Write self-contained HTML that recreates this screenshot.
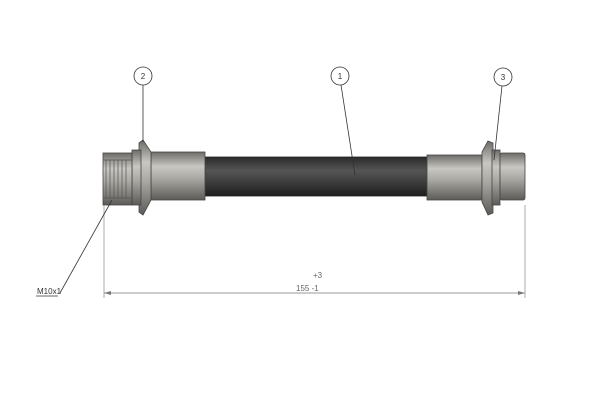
<!DOCTYPE html>
<html><head><style>body{margin:0;background:#fff}svg{display:block}</style></head><body>
<svg width="600" height="400" viewBox="0 0 600 400" xmlns="http://www.w3.org/2000/svg" font-family="Liberation Sans, sans-serif">
<defs>
<linearGradient id="m" x1="0" y1="0" x2="0" y2="1">
<stop offset="0" stop-color="#6e6c68"/><stop offset="0.3" stop-color="#c9c7c2"/><stop offset="0.55" stop-color="#aaa8a3"/><stop offset="1" stop-color="#5d5b57"/></linearGradient>
<linearGradient id="h" x1="0" y1="0" x2="0" y2="1">
<stop offset="0" stop-color="#2a2a2a"/><stop offset="0.35" stop-color="#555"/><stop offset="1" stop-color="#1e1e1e"/></linearGradient>
</defs>
<!-- hose -->
<rect x="203" y="157" width="226" height="39" fill="url(#h)" stroke="#222" stroke-width="0.8"/>
<!-- left ferrule -->
<rect x="151" y="152" width="54" height="48" fill="url(#m)" stroke="#444" stroke-width="0.8"/>
<!-- left flange -->
<path d="M143 140 L151 152 L151 200 L143 215 L139 212 L139 143 Z" fill="url(#m)" stroke="#444" stroke-width="0.8"/>
<rect x="132" y="150" width="9" height="55" fill="url(#m)" stroke="#444" stroke-width="0.8"/>
<!-- left nut -->
<rect x="103" y="153" width="29" height="52" fill="url(#m)" stroke="#444" stroke-width="0.8"/>
<g stroke="#555" stroke-width="0.7"><line x1="106" y1="160" x2="106" y2="198"/><line x1="110" y1="160" x2="110" y2="198"/><line x1="114" y1="160" x2="114" y2="198"/><line x1="118" y1="160" x2="118" y2="198"/><line x1="122" y1="160" x2="122" y2="198"/><line x1="126" y1="160" x2="126" y2="198"/><line x1="103" y1="160" x2="132" y2="160"/><line x1="103" y1="198" x2="132" y2="198"/></g>
<!-- right ferrule -->
<rect x="427" y="155" width="55" height="45" fill="url(#m)" stroke="#444" stroke-width="0.8"/>
<path d="M488 141 L482 152 L482 202 L488 215 L493 213 L493 143 Z" fill="url(#m)" stroke="#444" stroke-width="0.8"/>
<rect x="492" y="150" width="8" height="55" fill="url(#m)" stroke="#444" stroke-width="0.8"/>
<rect x="500" y="153" width="25" height="47" rx="2" fill="url(#m)" stroke="#444" stroke-width="0.8"/>
<!-- balloons -->
<g fill="#fff" stroke="#333" stroke-width="0.8">
<circle cx="143" cy="76" r="9"/><circle cx="340" cy="76" r="9"/><circle cx="503" cy="77" r="9"/></g>
<g font-size="8" text-anchor="middle" fill="#333"><text x="143" y="79">2</text><text x="340" y="79">1</text><text x="503" y="80">3</text></g>
<g stroke="#333" stroke-width="0.8">
<line x1="143" y1="85" x2="143" y2="142"/><line x1="341" y1="85" x2="355" y2="175"/><line x1="502" y1="86" x2="494" y2="160"/>
<line x1="104" y1="205" x2="104" y2="298" stroke="#999"/><line x1="525" y1="205" x2="525" y2="298" stroke="#999"/>
<line x1="104" y1="293" x2="525" y2="293" stroke="#777"/>
<line x1="60" y1="293" x2="112" y2="200"/><line x1="36" y1="296" x2="58" y2="296"/>
</g>
<path d="M104 293 l7 -2 v4 z M525 293 l-7 -2 v4 z" fill="#777"/>
<g font-size="8" fill="#666"><text x="313" y="278">+3</text><text x="296" y="291">155 -1</text><text x="37" y="294" fill="#333">M10x1</text></g>
</svg>
</body></html>
